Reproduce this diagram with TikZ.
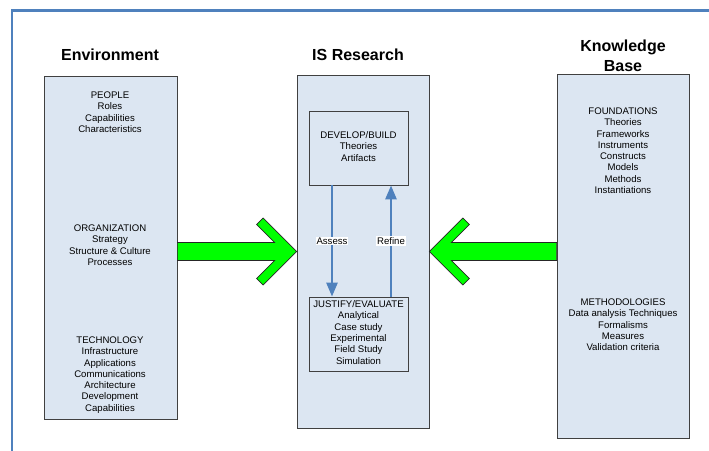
\documentclass[tikz,border=0pt]{standalone}
\usepackage{fontspec}
\setmainfont{Liberation Sans}
\usetikzlibrary{arrows.meta,calc}
\definecolor{panelfill}{HTML}{DCE6F2}
\definecolor{panelline}{HTML}{404040}
\definecolor{frameblue}{HTML}{4F81BD}
\definecolor{flowgreen}{HTML}{00FF00}
\tikzset{
  panel/.style={draw=panelline, line width=0.8pt, fill=panelfill, inner sep=0pt},
  heading/.style={font=\fontsize{16}{20}\selectfont\bfseries, align=center, inner sep=0pt},
  listing/.style={font=\fontsize{9.6}{11.3}\selectfont, align=center, inner sep=0pt, anchor=north},
  cycleflow/.style={draw=frameblue, line width=2.6pt, -{Triangle[length=14pt,width=11pt]}},
  flowtag/.style={fill=white, inner sep=1pt, font=\fontsize{9.6}{11.3}\selectfont},
  bigarrow/.style={fill=flowgreen, draw=black!85, line width=0.6pt, line join=miter}
}
\begin{document}
\begin{tikzpicture}[x=1pt,y=-1pt]
\useasboundingbox (0,0) rectangle (709,450);

% outer frame (only its top and left sides fall on the page)
\draw[frameblue, line width=2.2pt] (12,470) -- (12,10.5) -- (730,10.5);

% column headings
\node[heading] (envtitle) at (110,55) {Environment};
\node[heading] (istitle) at (358,55) {IS Research};
\node[heading] (kbtitle) at (623,56) {Knowledge\\Base};

% the three columns
\node[panel, minimum width=133pt, minimum height=343pt] (env) at (110.5,247.5) {};
\node[panel, minimum width=132pt, minimum height=353pt] (is) at (363,251.5) {};
\node[panel, minimum width=132pt, minimum height=364pt] (kb) at (623,256) {};

% environment contents
\node[listing] (people) at (110,91.5) {PEOPLE\\Roles\\Capabilities\\Characteristics};
\node[listing] (org) at (110,224.5) {ORGANIZATION\\Strategy\\Structure \& Culture\\Processes};
\node[listing] (tech) at (110,336.5) {TECHNOLOGY\\Infrastructure\\Applications\\Communications\\Architecture\\Development\\Capabilities};

% IS research contents
\node[panel, minimum width=99pt, minimum height=74pt] (dev) at (358.5,148) {};
\node[panel, minimum width=99pt, minimum height=74pt] (just) at (358.5,334) {};
\node[listing] (devtext) at (358.5,131.5) {DEVELOP/BUILD\\Theories\\Artifacts};
\node[listing] (justtext) at (358.5,300.5) {JUSTIFY/EVALUATE\\Analytical\\Case study\\Experimental\\Field Study\\Simulation};

\draw[cycleflow] ([xshift=-26.5pt]dev.south) -- node[flowtag] (assess) {Assess} ([xshift=-26.5pt]just.north);
\draw[cycleflow] ([xshift=32.5pt]just.north) -- node[flowtag] (refine) {Refine} ([xshift=32.5pt]dev.south);

% knowledge base contents
\node[listing] (found) at (623,107.5) {FOUNDATIONS\\Theories\\Frameworks\\Instruments\\Constructs\\Models\\Methods\\Instantiations};
\node[listing] (meth) at (623,298.5) {METHODOLOGIES\\Data analysis Techniques\\Formalisms\\Measures\\Validation criteria};

% relevance and rigor arrows
\begin{scope}[shift={(is.west)}]
\draw[bigarrow] (env.east |- 0,-9) -- (-22,-9) -- (-40,-27) -- (-33.5,-33.5) -- (0,0)
  -- (-33.5,33.5) -- (-40,27) -- (-22,9) -- (env.east |- 0,9) -- cycle;
\end{scope}
\begin{scope}[shift={(is.east)}, xscale=-1]
\draw[bigarrow] (kb.west |- 0,-9) -- (-22,-9) -- (-40,-27) -- (-33.5,-33.5) -- (0,0)
  -- (-33.5,33.5) -- (-40,27) -- (-22,9) -- (kb.west |- 0,9) -- cycle;
\end{scope}
\end{tikzpicture}
\end{document}
